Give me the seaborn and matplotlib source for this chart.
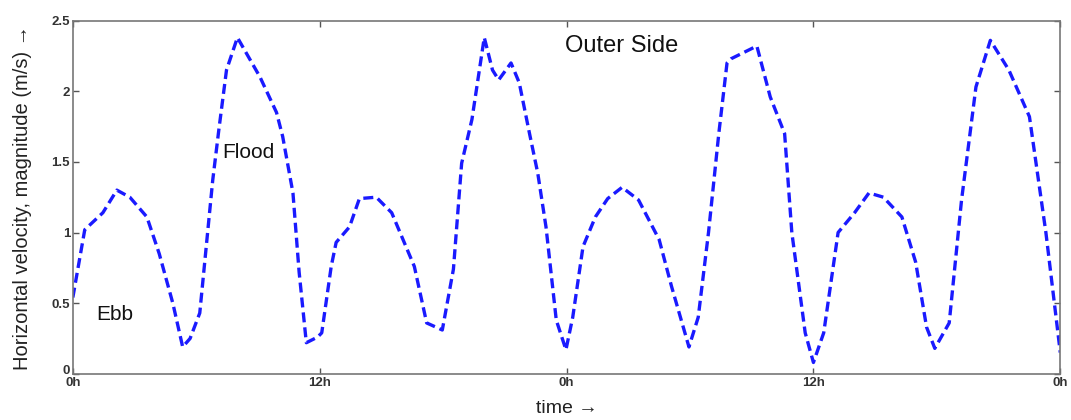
import matplotlib
matplotlib.use("Agg")
import matplotlib.pyplot as plt
import matplotlib.transforms as mtransforms
import seaborn as sns
import pandas as pd

time_h = [0.0, 0.58, 1.46, 2.14, 2.77, 3.6, 4.2, 4.86, 5.34, 5.7, 6.17, 6.8, 7.1, 7.47, 8.0,
          9.1, 9.9, 10.2, 10.7, 11.0, 11.35, 11.9, 12.1, 12.56, 12.8, 13.45, 13.93, 14.75,
          15.5, 16.6, 17.2, 17.96, 18.5, 18.9, 19.4, 20.0, 20.4, 20.7, 21.3, 21.7, 22.2, 22.6,
          23.0, 23.5, 23.97, 24.3, 24.8, 25.4, 26.0, 26.7, 27.5, 28.5, 29.1, 29.95, 30.4, 30.9,
          31.4, 31.8, 32.0, 33.25, 33.9, 34.6, 34.95, 35.6, 36.0, 36.5, 37.2, 38.0, 38.7, 39.4,
          40.3, 40.97, 41.5, 41.9, 42.6, 43.2, 43.9, 44.6, 45.5, 46.5, 47.3, 48.0]
velocity = [0.54, 1.02, 1.14, 1.30, 1.25, 1.11, 0.85, 0.50, 0.19, 0.25, 0.43, 1.37, 1.73, 2.15, 2.38,
            2.10, 1.85, 1.68, 1.28, 0.72, 0.22, 0.26, 0.29, 0.76, 0.93, 1.04, 1.24, 1.25,
            1.14, 0.76, 0.36, 0.31, 0.74, 1.49, 1.80, 2.38, 2.15, 2.08, 2.20, 2.06, 1.70, 1.42,
            1.04, 0.38, 0.17, 0.40, 0.90, 1.11, 1.24, 1.32, 1.23, 0.95, 0.62, 0.19, 0.40, 1.00,
            1.70, 2.20, 2.23, 2.32, 1.96, 1.70, 1.00, 0.29, 0.08, 0.29, 1.00, 1.14, 1.28, 1.25,
            1.11, 0.79, 0.33, 0.18, 0.36, 1.23, 2.03, 2.36, 2.15, 1.82, 1.00, 0.15]

x_ticks = [0, 12, 24, 36, 48]
x_tick_labels = ["0h", "12h", "0h", "12h", "0h"]
y_ticks = [0, 0.5, 1, 1.5, 2, 2.5]
y_tick_labels = ["0", "0.5", "1", "1.5", "2", "2.5"]

sns.set_style("white")
plt.rcParams['font.family'] = ['Liberation Sans', 'DejaVu Sans']

df = pd.DataFrame({"time": time_h, "velocity": velocity})

fig = plt.figure(figsize=(10.71, 4.2), dpi=100)
ax = fig.add_axes([0.068, 0.110, 0.922, 0.841])
sns.lineplot(data=df, x="time", y="velocity", ax=ax, color="#1a1aff",
             linewidth=2.4, linestyle=(0, (3.0, 1.5)))

ax.set_xlim(0, 48)
ax.set_ylim(0, 2.5)
ax.set_xticks(x_ticks)
ax.set_xticklabels(x_tick_labels, fontsize=9.5, fontweight="bold", color="#333333")
ax.set_yticks(y_ticks)
ax.set_yticklabels(y_tick_labels, fontsize=9.5, fontweight="bold", color="#333333")
ax.tick_params(direction="in", length=4, width=1, color="#555555",
               top=True, right=True, bottom=True, left=True, pad=2)
for s in ax.spines.values():
    s.set_color("#777777")
    s.set_linewidth(1.2)

# nudge the "0" y tick label up slightly so it sits above the "0h" label
zero_lbl = ax.get_yticklabels()[0]
zero_lbl.set_transform(zero_lbl.get_transform() +
                       mtransforms.ScaledTranslation(0, 4 / 100, fig.dpi_scale_trans))

ax.set_xlabel("time \u2192", fontsize=14, color="#222222", labelpad=8)
ax.set_ylabel("Horizontal velocity, magnitude (m/s) \u2192", fontsize=14.5,
              color="#222222", labelpad=14)

ax.text(23.9, 2.28, "Outer Side", fontsize=17, color="#111111")
ax.text(7.25, 1.53, "Flood", fontsize=15, color="#111111")
ax.text(1.15, 0.38, "Ebb", fontsize=15, color="#111111")

fig.savefig("out.png", dpi=100, facecolor="white")
